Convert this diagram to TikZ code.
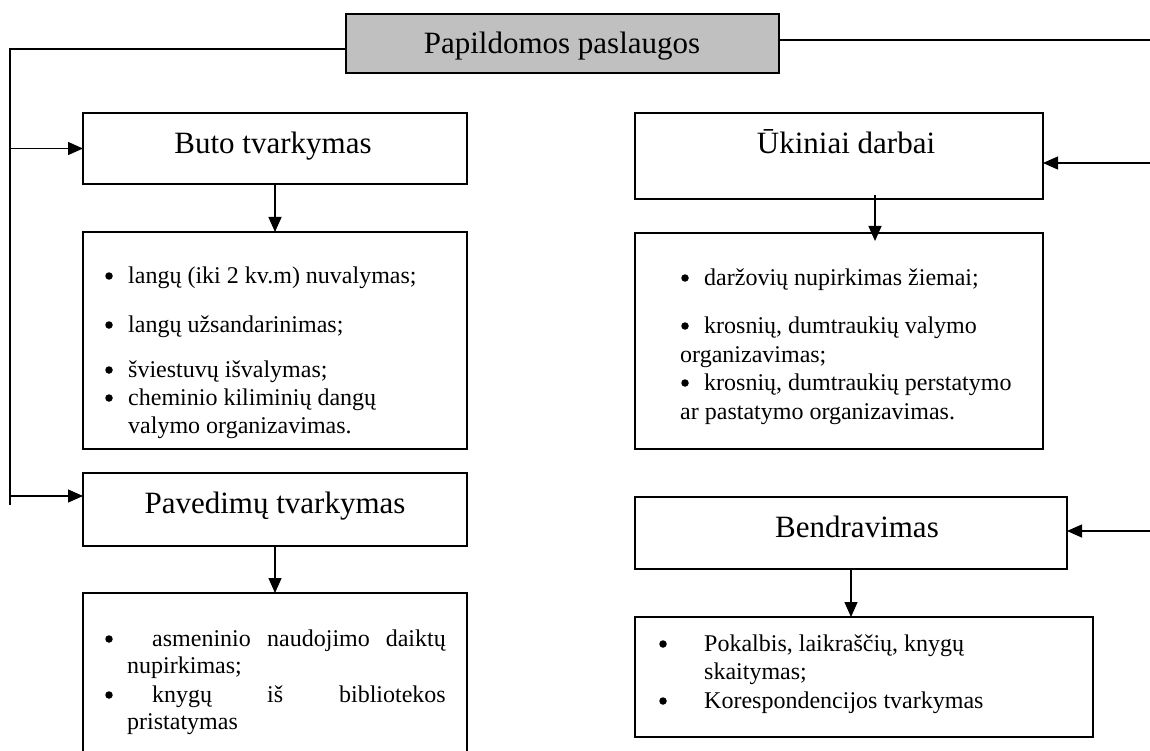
\documentclass[tikz,border=0pt]{standalone}
\usepackage{fontspec}
\setmainfont{Liberation Serif}
\usetikzlibrary{arrows.meta}
\begin{document}
\begin{tikzpicture}[x=1pt,y=-1pt,
  box/.style={draw, line width=1.8pt, inner sep=0pt, outer sep=0pt},
  head/.style={anchor=base, font=\fontsize{31}{36}\selectfont, inner sep=0pt},
  txt/.style={anchor=base west, font=\fontsize{24}{28}\selectfont, inner sep=0pt},
  txtr/.style={anchor=base east, font=\fontsize{24}{28}\selectfont, inner sep=0pt},
  dot/.style={circle, fill, inner sep=0pt, minimum size=7.5pt, yshift=7pt},
  conn/.style={line width=1.3pt},
  arr/.style={conn, -{Triangle[length=15pt,width=13pt]}}]
\useasboundingbox (0,0) rectangle (1150,751);

% boxes
\node[box, fill={rgb,255:red,192;green,192;blue,192}, minimum width=433pt, minimum height=59pt] (title) at (562.5,43.5) {};
\node[box, minimum width=384pt, minimum height=71pt]  (buto)  at (275,148.5) {};
\node[box, minimum width=384pt, minimum height=217pt] (butol) at (275,340.5) {};
\node[box, minimum width=384pt, minimum height=73pt]  (pav)   at (275,509.5) {};
\node[box, minimum width=384pt, minimum height=220pt] (pavl)  at (275,703) {};
\node[box, minimum width=408pt, minimum height=86pt]  (uk)    at (839,156) {};
\node[box, minimum width=408pt, minimum height=216pt] (ukl)   at (839,341) {};
\node[box, minimum width=432pt, minimum height=72pt]  (bend)  at (851,533) {};
\node[box, minimum width=458pt, minimum height=120pt] (bendl) at (864,677) {};

% headings
\node[head] (ttitle) at (562,54) {Papildomos paslaugos};
\node[head] (tbuto) at (273,154) {Buto tvarkymas};
\node[head] (tpav) at (275,513) {Pavedimų tvarkymas};
\node[head] (tuk) at (846,154) {Ūkiniai darbai};
\node[head] (tbend) at (857,537) {Bendravimas};

% list of the first box
\node[dot] (b11) at (109,283) {};
\node[txt] (i11) at (128,283) {langų (iki 2 kv.m) nuvalymas;};
\node[dot] (b12) at (109,332) {};
\node[txt] (i12) at (128,332) {langų užsandarinimas;};
\node[dot] (b13) at (109,377) {};
\node[txt] (i13) at (128,377) {šviestuvų išvalymas;};
\node[dot] (b14) at (109,405) {};
\node[txt] (i14) at (128,405) {cheminio kiliminių dangų};
\node[txt] (i15) at (128,433) {valymo organizavimas.};

% list of the second box (justified lines)
\node[dot] (b21) at (109,646) {};
\node[txt] (w1) at (152,646) {asmeninio};
\node[txt] (w2) at (267,646) {naudojimo};
\node[txtr] (w3) at (446,646) {daiktų};
\node[txt] (w4) at (127,673) {nupirkimas;};
\node[dot] (b22) at (109,702) {};
\node[txt] (w5) at (152,702) {knygų};
\node[txt] (w6) at (267,702) {iš};
\node[txtr] (w7) at (446,702) {bibliotekos};
\node[txt] (w8) at (127,729) {pristatymas};

% list of the third box
\node[dot] (b31) at (685,285) {};
\node[txt] (u1) at (704,285) {daržovių nupirkimas žiemai;};
\node[dot] (b32) at (685,333) {};
\node[txt] (u2) at (704,333) {krosnių, dumtraukių valymo};
\node[txt] (u3) at (680,362) {organizavimas;};
\node[dot] (b33) at (685,390) {};
\node[txt] (u4) at (704,390) {krosnių, dumtraukių perstatymo};
\node[txt] (u5) at (680,419) {ar pastatymo organizavimas.};

% list of the fourth box
\node[dot] (b41) at (663,651) {};
\node[txt] (k1) at (704,651) {Pokalbis, laikraščių, knygų};
\node[txt] (k2) at (704,679) {skaitymas;};
\node[dot] (b42) at (663,708) {};
\node[txt] (k3) at (704,708) {Korespondencijos tvarkymas};

% connector points
\coordinate (lc) at (10,49);
\coordinate (lend) at (10,505);
\coordinate (lb) at (10,148.5);
\coordinate (lp) at (10,496);
\coordinate (rc) at (1153,40);
\coordinate (rend) at (1153,531);
\coordinate (ru) at (1153,163);
\coordinate (rb) at (1153,531);

% left branch
\draw[conn] ([yshift=-5.5pt]title.west) -- (lc) -- (lend);
\draw[arr] (lb) -- (buto.west);
\draw[arr] (lp) -- (lp -| pav.west);
% right branch
\draw[conn] ([yshift=3.5pt]title.east) -- (rc) -- (rend);
\draw[arr] (ru) -- (ru -| uk.east);
\draw[arr] (rb) -- (rb -| bend.east);

% downward arrows
\draw[arr] (buto.south) -- (butol.north);
\draw[arr] (pav.south) -- (pavl.north);
\draw[arr] ([xshift=36pt,yshift=4pt]uk.south) -- ([xshift=36pt,yshift=-8pt]ukl.north);
\draw[arr] (bend.south) -- (bend.south |- bendl.north);
\end{tikzpicture}
\end{document}
